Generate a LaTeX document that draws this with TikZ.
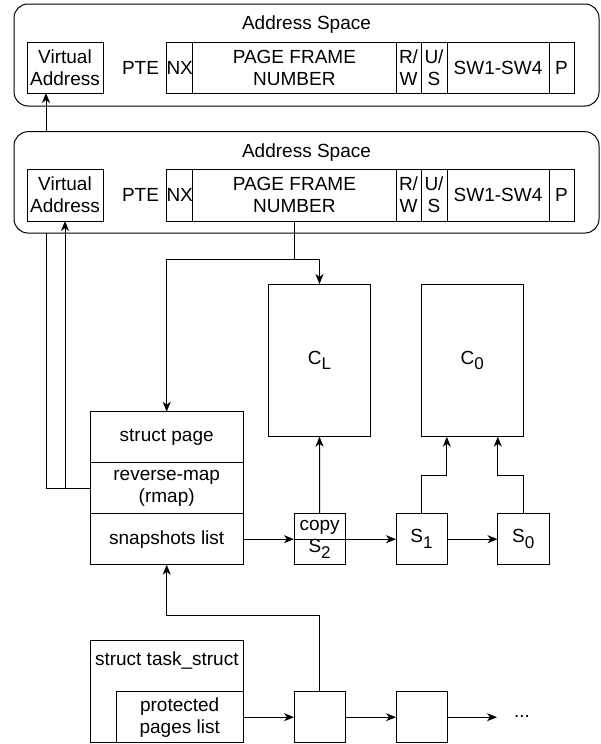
\documentclass[tikz,border=0pt]{standalone}
\usepackage{fontspec}
\setmainfont{Liberation Sans}
\usetikzlibrary{arrows.meta,calc}
\newcommand{\mysub}[1]{\raisebox{-0.3em}{\fontsize{17}{17}\selectfont #1}}
\tikzset{
  box/.style={draw, line width=1pt, inner sep=0pt, outer sep=0pt, align=center},
  cont/.style={draw, line width=1pt, rounded corners=14pt, fill=white, inner sep=0pt, outer sep=0pt},
  lbl/.style={inner sep=0pt, outer sep=0pt, align=center},
  sz/.style 2 args={minimum width=#1, minimum height=#2},
  arr/.style={line width=1pt, -{Stealth[length=10pt,width=8pt,inset=3pt]}},
  ln/.style={line width=1pt},
}
\begin{document}
\begin{tikzpicture}[x=1pt,y=-1pt, font=\fontsize{19}{22}\selectfont]
\useasboundingbox (0,0) rectangle (600,744);

% ---- Address space A (top)
\node[cont, sz={585pt}{102pt}] (contA) at (306.5,55) {};
\node[lbl] (titA) at (306.5,25) {Address Space};
\node[box, sz={76pt}{51pt}] (va1) at (65,67.5) {Virtual\\Address};
\node[lbl] (pte1) at (140.5,67.5) {PTE};
\node[box, sz={26pt}{51pt}] (nx1) at (179.7,67.5) {NX};
\node[box, sz={203.3pt}{51pt}] (pfn1) at (294.35,67.5) {PAGE FRAME\\NUMBER};
\node[box, sz={25pt}{51pt}] (rw1) at (408.5,67.5) {R/\\W};
\node[box, sz={26pt}{51pt}] (us1) at (434,67.5) {U/\\S};
\node[box, sz={102pt}{51pt}] (sw1) at (498,67.5) {SW1-SW4};
\node[box, sz={25pt}{51pt}] (p1) at (561.5,67.5) {P};

% ---- Address space B
\node[cont, sz={585pt}{101.3pt}] (contB) at (306.5,182.35) {};
\node[lbl] (titB) at (306.5,152.7) {Address Space};
\node[box, sz={76pt}{52pt}] (va2) at (65,195) {Virtual\\Address};
\node[lbl] (pte2) at (140.5,195) {PTE};
\node[box, sz={26pt}{52pt}] (nx2) at (179.7,195) {NX};
\node[box, sz={203.3pt}{52pt}] (pfn2) at (294.35,195) {PAGE FRAME\\NUMBER};
\node[box, sz={25pt}{52pt}] (rw2) at (408.5,195) {R/\\W};
\node[box, sz={26pt}{52pt}] (us2) at (434,195) {U/\\S};
\node[box, sz={102pt}{52pt}] (sw2) at (498,195) {SW1-SW4};
\node[box, sz={25pt}{52pt}] (p2) at (561.5,195) {P};

% ---- struct page
\node[box, sz={153.3pt}{51pt}] (sp) at (166.7,437.2) {struct page};
\node[box, sz={153.3pt}{51pt}] (rmap) at (166.7,488.2) {reverse-map\\(rmap)};
\node[box, sz={153.3pt}{51pt}] (snap) at (166.7,539.2) {snapshots list};

% ---- pages
\node[box, sz={102.4pt}{152.7pt}] (cl) at (319.5,360.35) {C\mysub{L}};
\node[box, sz={102pt}{152.4pt}] (c0) at (472.3,360.5) {C\mysub{0}};

% ---- snapshots
\node[box, sz={51.2pt}{50.6pt}] (copy) at (319.6,539.2) {copy\\S\mysub{2}};
\node[box, sz={51pt}{50.6pt}] (s1) at (421.5,539.2) {S\mysub{1}};
\node[box, sz={51.5pt}{50.6pt}] (s0) at (523.25,539.2) {S\mysub{0}};

% ---- task struct
\node[box, sz={153.1pt}{102pt}] (task) at (166.85,691.7) {};
\node[lbl] (tasklbl) at (166.8,660) {struct task\_struct};
\node[box, sz={127.4pt}{51pt}] (prot) at (179.7,717.2) {protected\\pages list};
\node[box, sz={51.2pt}{51pt}] (l1) at (319.6,717.2) {};
\node[box, sz={51pt}{51pt}] (l2) at (421.5,717.2) {};
\node[lbl] (dots) at (522,716) {...};
\coordinate (dotsend) at (497,717.2);

% ---- helper coordinates
\coordinate (va1q) at ($(va1.south west)!0.25!(va1.south east)$);
\coordinate (c0a) at ($(c0.south west)!0.25!(c0.south east)$);
\coordinate (c0b) at ($(c0.south west)!0.75!(c0.south east)$);
\coordinate (j) at ($(pfn2.south)+(0,38)$);

% ---- connectors
\draw[ln] (rmap.west) -| (va1q |- contB.south);
\draw[arr] (va1q |- contB.north) -- (va1q);
\draw[arr] (rmap.west) -| (va2.south);
\draw[ln] (pfn2.south) -- (j);
\draw[arr] (j) -| (cl.north);
\draw[arr] (j) -| (sp.north);
\draw[arr] (snap.east) -- (copy.west);
\draw[arr] (copy.west) -- (s1.west);
\draw[arr] (s1.east) -- (s0.west);
\draw[arr] (copy.north) -- (cl.south);
\draw[arr] (s1.north) -- ++(0,-38) -| (c0a);
\draw[arr] (s0.north) -- ++(0,-38) -| (c0b);
\draw[arr] (l1.north) -- ++(0,-76.7) -| (snap.south);
\draw[arr] (prot.east) -- (l1.west);
\draw[arr] (l1.east) -- (l2.west);
\draw[arr] (l2.east) -- (dotsend);
\end{tikzpicture}
\end{document}
